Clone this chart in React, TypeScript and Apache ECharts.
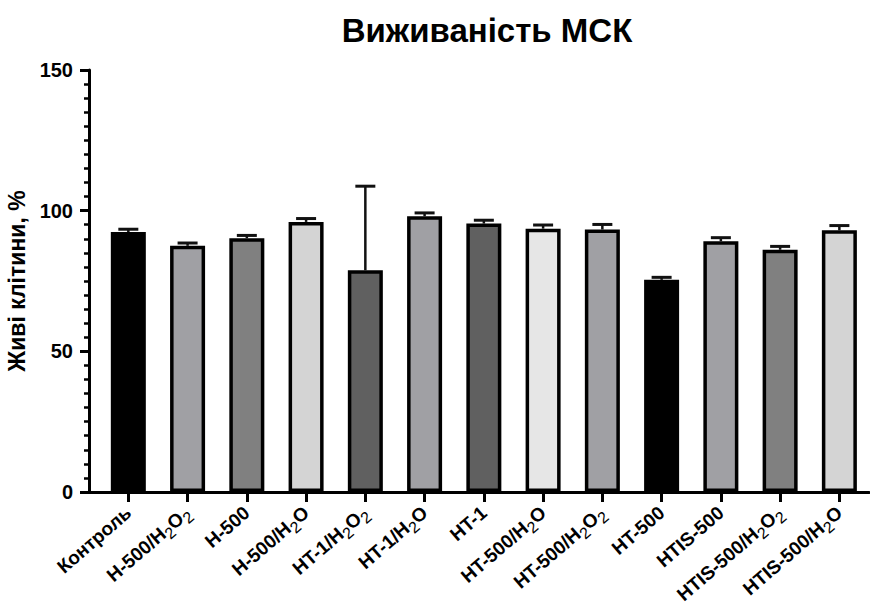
import React, { useEffect, useRef } from "react";
import * as echarts from "echarts";

const categories = [
  "Контроль",
  "H-500/H2O2",
  "H-500",
  "H-500/H2O",
  "HT-1/H2O2",
  "HT-1/H2O",
  "HT-1",
  "HT-500/H2O",
  "HT-500/H2O2",
  "HT-500",
  "HTIS-500",
  "HTIS-500/H2O2",
  "HTIS-500/H2O",
];
const means = [92.4, 87.5, 90.2, 96.0, 78.8, 98.0, 95.4, 93.6, 93.3, 75.4, 89.1, 86.1, 93.0];
const errors = [1.0, 1.0, 1.0, 1.2, 29.9, 1.2, 1.2, 1.3, 1.8, 0.9, 1.3, 1.2, 1.7];
const barColors = [
  "#000000", "#a0a0a4", "#808080", "#d4d4d4", "#606060", "#a0a0a4", "#606060",
  "#e6e6e6", "#a0a0a4", "#000000", "#a0a0a4", "#808080", "#d4d4d4",
];
const yTicks = [0, 50, 100, 150];

const FONT = "'Liberation Sans', Arial, sans-serif";

export default function App() {
  const ref = useRef<HTMLDivElement>(null);
  useEffect(() => {
    if (!ref.current) return;
    const chart = echarts.init(ref.current, null, { renderer: "svg" });
    const top = 70;
    const bottom = 114;
    chart.setOption({
      animation: false,
      backgroundColor: "#ffffff",
      title: {
        text: "Виживаність МСК",
        left: 482,
        top: 9,
        textAlign: "center",
        textStyle: { fontFamily: FONT, fontWeight: "bold", fontSize: 33, color: "#000" },
      },
      grid: [
        { left: 98.7, right: 1, top, bottom, containLabel: false, outerBoundsMode: "none" },
        { left: 89, right: 1, top, bottom, containLabel: false, outerBoundsMode: "none" },
      ],
      xAxis: [
        {
          type: "category",
          gridIndex: 0,
          data: categories,
          boundaryGap: true,
          axisLine: { show: false },
          axisTick: { show: true, alignWithLabel: true, length: 10, lineStyle: { color: "#000", width: 3 } },
          axisLabel: {
            interval: 0,
            rotate: 41,
            margin: 18,
            fontFamily: FONT,
            fontWeight: "bold",
            fontSize: 19,
            color: "#000",
            lineHeight: 28,
            formatter: (v: string) => v.replace(/([HO])2/g, "$1{s|2}"),
            rich: {
              s: {
                fontFamily: FONT,
                fontWeight: "normal",
                fontSize: 16,
                lineHeight: 16,
                verticalAlign: "bottom",
                color: "#000000",
              },
            },
          },
          splitLine: { show: false },
        },
        {
          type: "value",
          gridIndex: 1,
          min: 0,
          max: 1,
          axisLine: { show: true, onZero: false, lineStyle: { color: "#000", width: 3 } },
          axisTick: { show: false },
          axisLabel: { show: false },
          splitLine: { show: false },
        },
      ],
      yAxis: [
        {
          type: "value",
          gridIndex: 0,
          min: 0,
          max: 150,
          show: false,
          splitLine: { show: false },
        },
        {
          type: "value",
          gridIndex: 1,
          min: yTicks[0],
          max: yTicks[yTicks.length - 1],
          interval: yTicks[1] - yTicks[0],
          name: "Живі клітини, %",
          nameLocation: "middle",
          nameGap: 61,
          nameTextStyle: { fontFamily: FONT, fontWeight: "bold", fontSize: 23, color: "#000" },
          axisLine: { show: true, lineStyle: { color: "#000", width: 3 } },
          axisTick: { show: true, length: 9, lineStyle: { color: "#000", width: 3 } },
          minorTick: { show: true, splitNumber: 10, length: 5, lineStyle: { color: "#000", width: 2.5 } },
          axisLabel: {
            margin: 16,
            fontFamily: FONT,
            fontWeight: "bold",
            fontSize: 20,
            color: "#000",
          },
          splitLine: { show: false },
          minorSplitLine: { show: false },
        },
      ],
      series: [
        {
          type: "bar",
          xAxisIndex: 0,
          yAxisIndex: 0,
          barWidth: 35,
          data: means.map((v, i) => ({
            value: v,
            itemStyle: { color: barColors[i], borderColor: "#000", borderWidth: 3.5 },
          })),
          z: 2,
        },
        {
          type: "custom",
          xAxisIndex: 0,
          yAxisIndex: 0,
          z: 3,
          data: means.map((m, i) => [i, m, errors[i]]),
          encode: { x: 0, y: 1 },
          renderItem: (params: any, api: any) => {
            const idx = api.value(0);
            const m = api.value(1);
            const e = api.value(2);
            const base = api.coord([idx, m]);
            const topPt = api.coord([idx, m + e]);
            const half = 10;
            const style = { stroke: "#111", lineWidth: 2.5 };
            return {
              type: "group",
              children: [
                { type: "line", shape: { x1: base[0], y1: base[1], x2: topPt[0], y2: topPt[1] }, style },
                { type: "line", shape: { x1: topPt[0] - half, y1: topPt[1], x2: topPt[0] + half, y2: topPt[1] }, style: { stroke: "#111", lineWidth: 3 } },
              ],
            };
          },
        },
      ],
    });
    return () => chart.dispose();
  }, []);
  return <div ref={ref} style={{ width: 870, height: 606, position: "absolute", left: 0, top: 0 }} />;
}
